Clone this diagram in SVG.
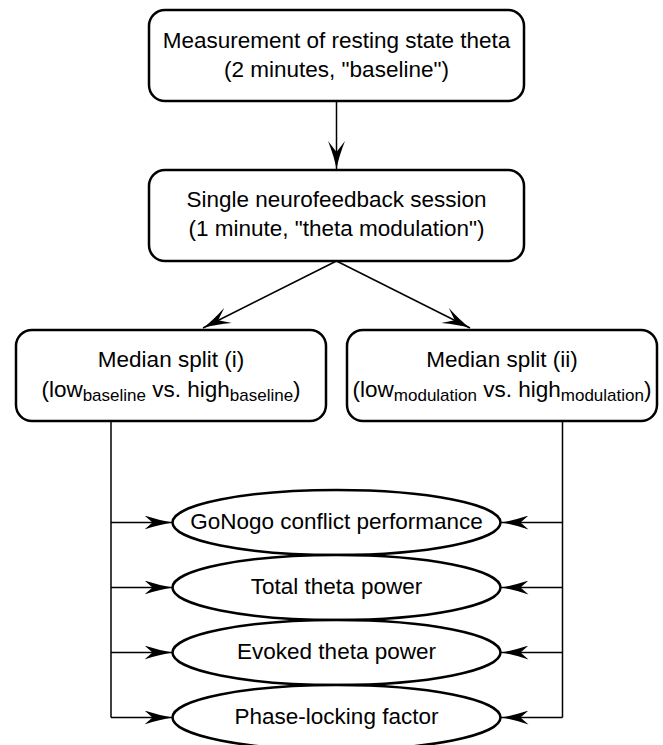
<svg xmlns="http://www.w3.org/2000/svg" width="663" height="745" viewBox="0 0 663 745">
<style>
  .box { fill: #fff; stroke: #000; stroke-width: 2.5; }
  .conn { fill: none; stroke: #000; stroke-width: 1.5; }
  text { font-family: "Liberation Sans", Arial, sans-serif; font-size: 22.5px; fill: #000; text-anchor: middle; }
  .sub { font-size: 17px; }
</style>
<defs>
  <marker id="arr" markerUnits="userSpaceOnUse" viewBox="0 0 28 14" refX="28" refY="7" markerWidth="28" markerHeight="14" orient="auto">
    <path d="M0,0 Q15,5 28,7 Q15,9 0,14 L8,7 Z" fill="#000"/>
  </marker>
  <marker id="arrw" markerUnits="userSpaceOnUse" viewBox="0 0 28 17" refX="28" refY="8.5" markerWidth="28" markerHeight="17" orient="auto">
    <path d="M0,0 Q15,6 28,8.5 Q15,11 0,17 L11,8.5 Z" fill="#000"/>
  </marker>
</defs>
<rect width="663" height="745" fill="#fff"/>
<g id="connectors">
  <line class="conn" x1="336.5" y1="101" x2="336.5" y2="169" marker-end="url(#arrw)"/>
  <line class="conn" x1="336.5" y1="261" x2="203" y2="328" marker-end="url(#arrw)"/>
  <line class="conn" x1="336.5" y1="261" x2="470" y2="328" marker-end="url(#arrw)"/>
  <path class="conn" d="M111,421 V717.5"/>
  <path class="conn" d="M562.5,421 V717.5"/>
  <line class="conn" x1="111" y1="522.5" x2="172.5" y2="522.5" marker-end="url(#arr)"/>
  <line class="conn" x1="111" y1="587.5" x2="172.5" y2="587.5" marker-end="url(#arr)"/>
  <line class="conn" x1="111" y1="652.5" x2="172.5" y2="652.5" marker-end="url(#arr)"/>
  <line class="conn" x1="111" y1="717.5" x2="172.5" y2="717.5" marker-end="url(#arr)"/>
  <line class="conn" x1="562.5" y1="522.5" x2="500.5" y2="522.5" marker-end="url(#arr)"/>
  <line class="conn" x1="562.5" y1="587.5" x2="500.5" y2="587.5" marker-end="url(#arr)"/>
  <line class="conn" x1="562.5" y1="652.5" x2="500.5" y2="652.5" marker-end="url(#arr)"/>
  <line class="conn" x1="562.5" y1="717.5" x2="500.5" y2="717.5" marker-end="url(#arr)"/>
</g>
<g id="baseline-measurement">
  <rect class="box" x="149" y="10" width="375" height="91" rx="16" ry="16"/>
  <text x="336.5" y="47.7">Measurement of resting state theta</text>
  <text x="336.5" y="77.3">(2 minutes, "baseline")</text>
</g>
<g id="neurofeedback-session">
  <rect class="box" x="149" y="170" width="375" height="91" rx="16" ry="16"/>
  <text x="336.5" y="206.7">Single neurofeedback session</text>
  <text x="336.5" y="236">(1 minute, "theta modulation")</text>
</g>
<g id="median-split-i">
  <rect class="box" x="16" y="330" width="310" height="91" rx="16" ry="16"/>
  <text x="171" y="366.7">Median split (i)</text>
  <text x="171" y="396.7">(low<tspan class="sub" dy="4">baseline</tspan><tspan dy="-4"> vs. high</tspan><tspan class="sub" dy="4">baseline</tspan><tspan dy="-4">)</tspan></text>
</g>
<g id="median-split-ii">
  <rect class="box" x="347" y="330" width="310" height="91" rx="16" ry="16"/>
  <text x="502" y="366.7">Median split (ii)</text>
  <text x="502" y="396.7">(low<tspan class="sub" dy="4">modulation</tspan><tspan dy="-4"> vs. high</tspan><tspan class="sub" dy="4">modulation</tspan><tspan dy="-4">)</tspan></text>
</g>
<g id="gonogo">
  <ellipse class="box" cx="336.5" cy="522.5" rx="164" ry="32.5"/>
  <text x="336.5" y="528.7">GoNogo conflict performance</text>
</g>
<g id="total-theta">
  <ellipse class="box" cx="336.5" cy="587.5" rx="164" ry="32.5"/>
  <text x="336.5" y="594">Total theta power</text>
</g>
<g id="evoked-theta">
  <ellipse class="box" cx="336.5" cy="652.5" rx="164" ry="32.5"/>
  <text x="336.5" y="659">Evoked theta power</text>
</g>
<g id="phase-locking">
  <ellipse class="box" cx="336.5" cy="717.5" rx="164" ry="32.5"/>
  <text x="336.5" y="724">Phase-locking factor</text>
</g>
</svg>
